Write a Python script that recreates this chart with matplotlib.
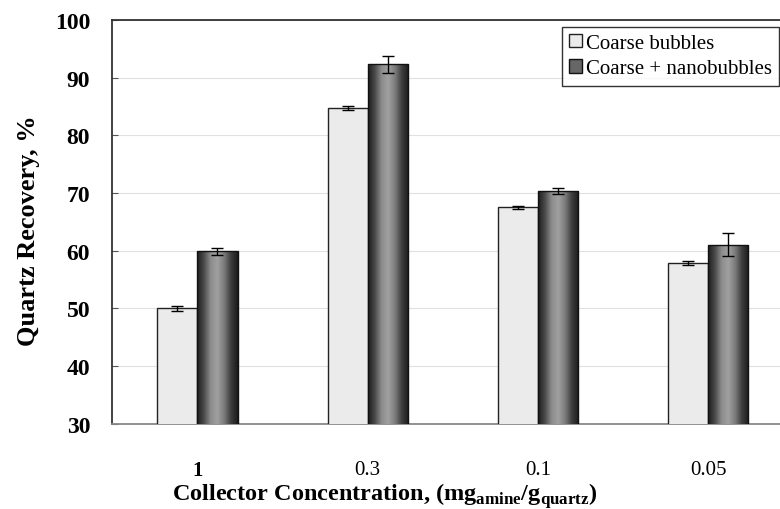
import matplotlib.pyplot as plt
import numpy as np
from matplotlib.patches import Patch
from matplotlib.colors import LinearSegmentedColormap

concentrations = ["1", "0.3", "0.1", "0.05"]
coarse = [50.0, 84.7, 67.5, 57.9]
coarse_err = [0.4, 0.3, 0.3, 0.3]
nano = [59.9, 92.3, 70.3, 61.0]
nano_err = [0.6, 1.5, 0.5, 2.0]

serif = "Liberation Serif"
plt.rcParams["mathtext.fontset"] = "custom"
plt.rcParams["mathtext.rm"] = serif
plt.rcParams["mathtext.bf"] = serif + ":bold"

fig = plt.figure(figsize=(7.8, 5.1), dpi=100)
ax = fig.add_axes([0.144, 0.167, 0.856, 0.792])

x = np.arange(len(concentrations))
w = 0.235

# light bars
ax.bar(x - w / 2, coarse, w, bottom=0, color="#ebebeb", edgecolor="#222222",
       linewidth=1.0, zorder=3)
ax.errorbar(x - w / 2, coarse, yerr=coarse_err, fmt="none", ecolor="black",
            elinewidth=1.0, capsize=4, capthick=1.0, zorder=5)

# cylinder-shaded bars
shade = LinearSegmentedColormap.from_list(
    "cyl", ["#1c1c1c", "#4a4a4a", "#8c8c8c", "#a0a0a0", "#7a7a7a", "#3c3c3c", "#1a1a1a"])
grad = np.linspace(0, 1, 256).reshape(1, -1)
bars = ax.bar(x + w / 2, nano, w, color="none", edgecolor="#111111",
              linewidth=1.0, zorder=4)
for b in bars:
    x0 = b.get_x()
    im = ax.imshow(grad, cmap=shade, aspect="auto", zorder=3,
                   extent=[x0, x0 + b.get_width(), 30, b.get_height()])
    im.set_clip_path(b)
ax.errorbar(x + w / 2, nano, yerr=nano_err, fmt="none", ecolor="black",
            elinewidth=1.0, capsize=4, capthick=1.0, zorder=5)

ax.set_xlim(-0.5, 3.42)
ax.set_ylim(30, 100)
ax.set_yticks(np.arange(30, 101, 10))
ax.yaxis.grid(True, color="#e0e0e0", linewidth=0.8, zorder=0)
ax.set_axisbelow(True)

ax.set_xticks(x)
ax.set_xticklabels(concentrations)
for i, lab in enumerate(ax.get_xticklabels()):
    lab.set_fontfamily(serif)
    lab.set_fontsize(15)
    if i == 0:
        lab.set_fontweight("bold")
ax.tick_params(axis="x", length=0, pad=26)
ax.tick_params(axis="y", length=4, direction="in", color="#555555", pad=16)
for lab in ax.get_yticklabels():
    lab.set_fontfamily(serif)
    lab.set_fontweight("bold")
    lab.set_fontsize(17)

ax.spines["right"].set_visible(False)
ax.spines["left"].set_color("#333333")
ax.spines["left"].set_linewidth(1.3)
ax.spines["top"].set_color("#333333")
ax.spines["top"].set_linewidth(1.3)
ax.spines["bottom"].set_color("#888888")
ax.spines["bottom"].set_linewidth(1.3)

ax.set_ylabel("Quartz Recovery, %", fontfamily=serif, fontweight="bold",
              fontsize=19)
ax.yaxis.set_label_coords(-0.108, 0.48)
ax.set_xlabel(r"Collector Concentration, (mg$_{\mathbf{amine}}$/g$_{\mathbf{quartz}}$)",
              fontfamily=serif, fontweight="bold", fontsize=17.5)
ax.xaxis.set_label_coords(0.408, -0.139)

handles = [Patch(facecolor="#ebebeb", edgecolor="#222222"),
           Patch(facecolor="#666666", edgecolor="#111111")]
leg = ax.legend(handles, ["Coarse bubbles", "Coarse + nanobubbles"],
                loc="upper right", bbox_to_anchor=(0.999, 0.983),
                prop={"family": serif, "size": 15}, frameon=True, fancybox=False,
                handlelength=0.6, handleheight=0.6, handletextpad=0.2,
                borderpad=0.35, labelspacing=0.3, borderaxespad=0)
leg.get_frame().set_edgecolor("black")
leg.get_frame().set_linewidth(1.0)

fig.savefig("out.png", dpi=100)
